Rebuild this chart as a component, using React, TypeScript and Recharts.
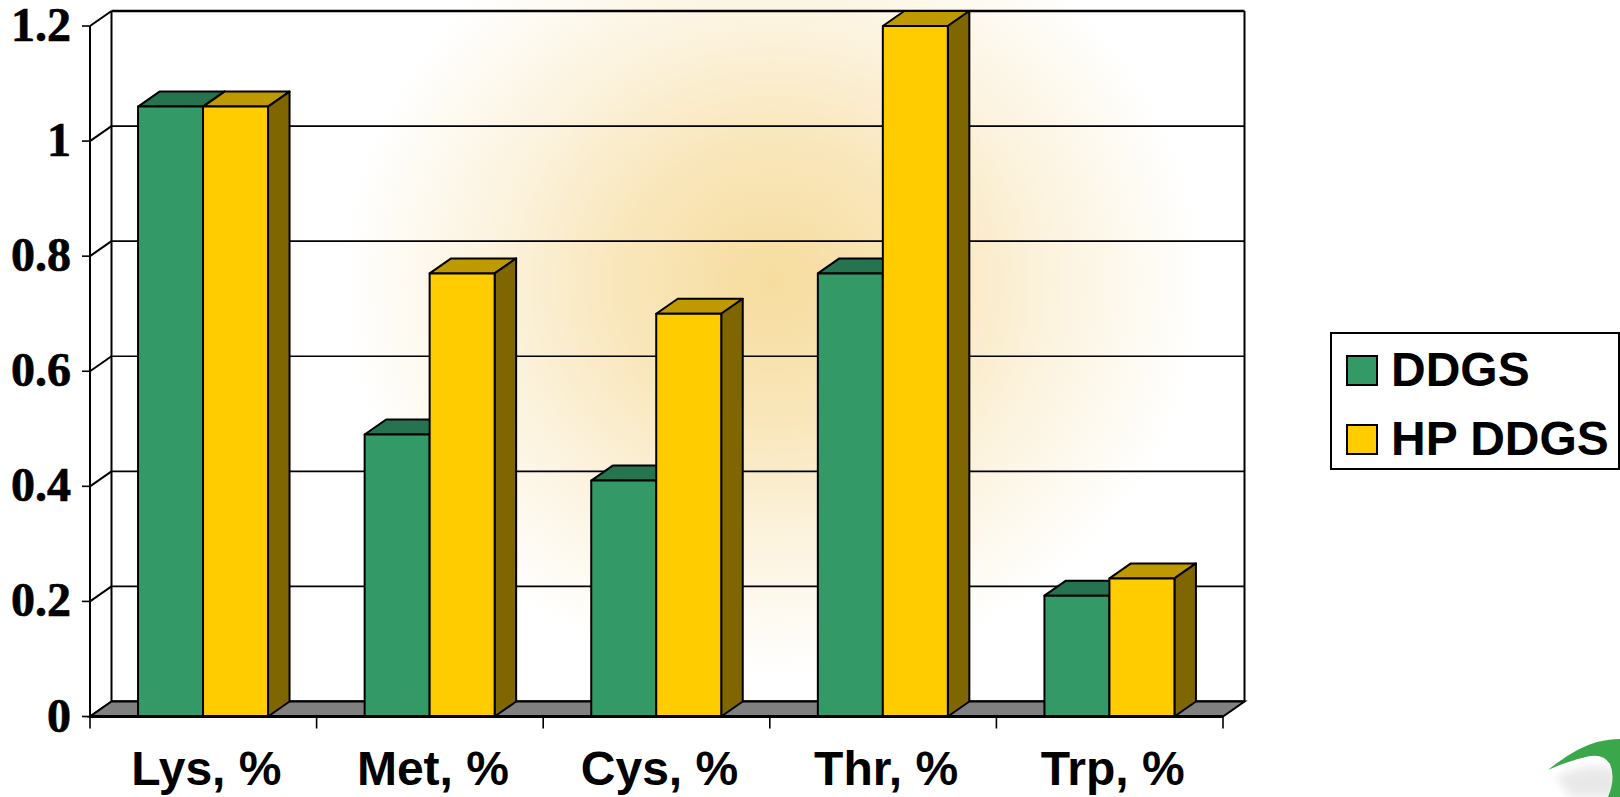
import React from "react";
import { BarChart, Bar, XAxis, YAxis, CartesianGrid, Legend } from "recharts";

const categories = ["Lys, %", "Met, %", "Cys, %", "Thr, %", "Trp, %"];
const ddgs = [1.06, 0.49, 0.41, 0.77, 0.21];
const hpDdgs = [1.06, 0.77, 0.7, 1.2, 0.24];
const yTicks = [0, 0.2, 0.4, 0.6, 0.8, 1, 1.2];

const rows = categories.map((name, i) => ({ name, ddgs: ddgs[i], hp: hpDdgs[i] }));

const W = 1620;
const H = 797;
const LEGEND_W = 290;
const LEFT = 90;
const RIGHT = 1223;
const TOP = 26;
const BOTTOM = 716.5;
const DX = 21.5;
const DY = -15;
const BAND = (RIGHT - LEFT) / categories.length;

const sansBold = { fontFamily: "'Liberation Sans', Arial, sans-serif", fontWeight: 700 };

// front face plus the top and side faces of the fake 3d bar
const Bar3D = (props: any) => {
	const { x, y, width, height, fill, topFill, sideFill } = props;
	const r = x + width;
	const b = y + height;
	return (
		<g stroke="#000" strokeWidth={2} strokeLinejoin="round">
			<polygon points={`${x},${y} ${x + DX},${y + DY} ${r + DX},${y + DY} ${r},${y}`} fill={topFill} />
			<polygon points={`${r},${y} ${r + DX},${y + DY} ${r + DX},${b + DY} ${r},${b}`} fill={sideFill} />
			<rect x={x} y={y} width={width} height={height} fill={fill} />
		</g>
	);
};

// grid lines sit on the back wall, with a slanted bit across the left wall
const WallLine = (props: any) => {
	const { x1, x2, y1, index } = props;
	return (
		<g key={index} stroke="#000" fill="none">
			<line x1={x1} y1={y1} x2={x1 + DX} y2={y1 + DY} strokeWidth={2} />
			<line x1={x1 + DX} y1={y1 + DY} x2={x2 + DX} y2={y1 + DY} strokeWidth={y1 === TOP || y1 === BOTTOM ? 2.5 : 1.6} />
		</g>
	);
};

const CategoryTick = (props: any) => {
	const { x, y, payload, index } = props;
	const tickY = BOTTOM;
	return (
		<g>
			<line x1={x - BAND / 2} y1={tickY} x2={x - BAND / 2} y2={tickY + 12} stroke="#000" strokeWidth={1.6} />
			{index === categories.length - 1 && (
				<line x1={x + BAND / 2} y1={tickY} x2={x + BAND / 2} y2={tickY + 12} stroke="#000" strokeWidth={1.6} />
			)}
			<text x={x + 3} y={y + 60} textAnchor="middle" fontSize={48} fill="#000" style={sansBold}>
				{payload.value}
			</text>
		</g>
	);
};

const ValueTick = (props: any) => {
	const { y, payload } = props;
	return (
		<text
			x={71}
			y={y + 15}
			textAnchor="end"
			fontSize={48}
			fill="#000"
			stroke="#000"
			strokeWidth={0.7}
			fontFamily="'Liberation Serif', 'Times New Roman', serif"
			fontWeight={700}
		>
			{payload.value}
		</text>
	);
};

const LegendBox = ({ payload }: any) => (
	<div
		style={{
			boxSizing: "border-box",
			width: LEGEND_W,
			height: 138,
			border: "2px solid #000",
			background: "#fff",
			position: "relative",
		}}
	>
		{(payload || []).map((item: any, i: number) => (
			<div key={item.value} style={{ position: "absolute", left: 14, top: 20 + i * 69, height: 32, display: "flex", alignItems: "center" }}>
				<span style={{ display: "block", boxSizing: "border-box", width: 32, height: 31, background: item.color, border: "2px solid #000" }} />
				<span style={{ ...sansBold, fontSize: 48, color: "#000", marginLeft: 13, lineHeight: "32px", whiteSpace: "nowrap" }}>{item.value}</span>
			</div>
		))}
	</div>
);

const glow = "radial-gradient(ellipse 430px 395px at 772px 282px, #f6dc9e 0%, #f9e6ba 35%, #fcf3de 65%, #ffffff 100%)";

export default function App() {
	return (
		<div style={{ position: "absolute", left: 0, top: 0, width: W, height: H, background: glow, overflow: "hidden" }}>
			<BarChart
				width={W}
				height={H}
				data={rows}
				margin={{ top: TOP, right: W - RIGHT - LEGEND_W, bottom: 0, left: 0 }}
				barGap={0}
				barCategoryGap="21.2%"
			>
				<defs>
					<filter id="soft" x="-30%" y="-30%" width="160%" height="160%">
						<feGaussianBlur stdDeviation="5" />
					</filter>
				</defs>

				<polygon
					points={`${LEFT},${BOTTOM} ${RIGHT},${BOTTOM} ${RIGHT + DX},${BOTTOM + DY} ${LEFT + DX},${BOTTOM + DY}`}
					fill="#808080"
					stroke="#000"
					strokeWidth={2}
				/>
				<CartesianGrid vertical={false} horizontal={WallLine as any} />
				<line x1={LEFT + DX} y1={TOP + DY} x2={LEFT + DX} y2={BOTTOM + DY} stroke="#000" strokeWidth={2} />
				<line x1={RIGHT + DX} y1={TOP + DY} x2={RIGHT + DX} y2={BOTTOM + DY} stroke="#000" strokeWidth={2} />

				<XAxis dataKey="name" tickLine={false} axisLine={{ stroke: "#000", strokeWidth: 3 }} tick={CategoryTick} interval={0} height={H - BOTTOM} />
				<YAxis
					width={LEFT}
					domain={[0, 1.2]}
					ticks={yTicks}
					interval={0}
					tick={ValueTick}
					tickSize={8}
					tickLine={{ stroke: "#000", strokeWidth: 1.6 }}
					axisLine={{ stroke: "#000", strokeWidth: 2 }}
				/>
				<Legend
					layout="vertical"
					align="right"
					verticalAlign="middle"
					content={LegendBox}
					wrapperStyle={{ position: "absolute", left: 1330, top: 332, width: LEGEND_W, height: 138 }}
				/>
				<Bar dataKey="ddgs" name="DDGS" fill="#339966" isAnimationActive={false} shape={(p: any) => <Bar3D {...p} topFill="#267350" sideFill="#1a4d33" />} />
				<Bar dataKey="hp" name="HP DDGS" fill="#ffcc00" isAnimationActive={false} shape={(p: any) => <Bar3D {...p} topFill="#bf9900" sideFill="#806600" />} />

				{/* corner logo */}
				<path d="M1556 776 Q1590 762 1612 768 Q1622 772 1618 797 L1570 797 Z" fill="#c8c8c8" opacity={0.4} filter="url(#soft)" />
				<path
					d="M1548 770 Q1575 748 1597 742 Q1610 739 1620 739 L1620 797 L1608 797 Q1616 778 1610 764 Q1604 754 1590 756 Q1570 760 1548 770 Z"
					fill="#3aa84a"
				/>
			</BarChart>
		</div>
	);
}
